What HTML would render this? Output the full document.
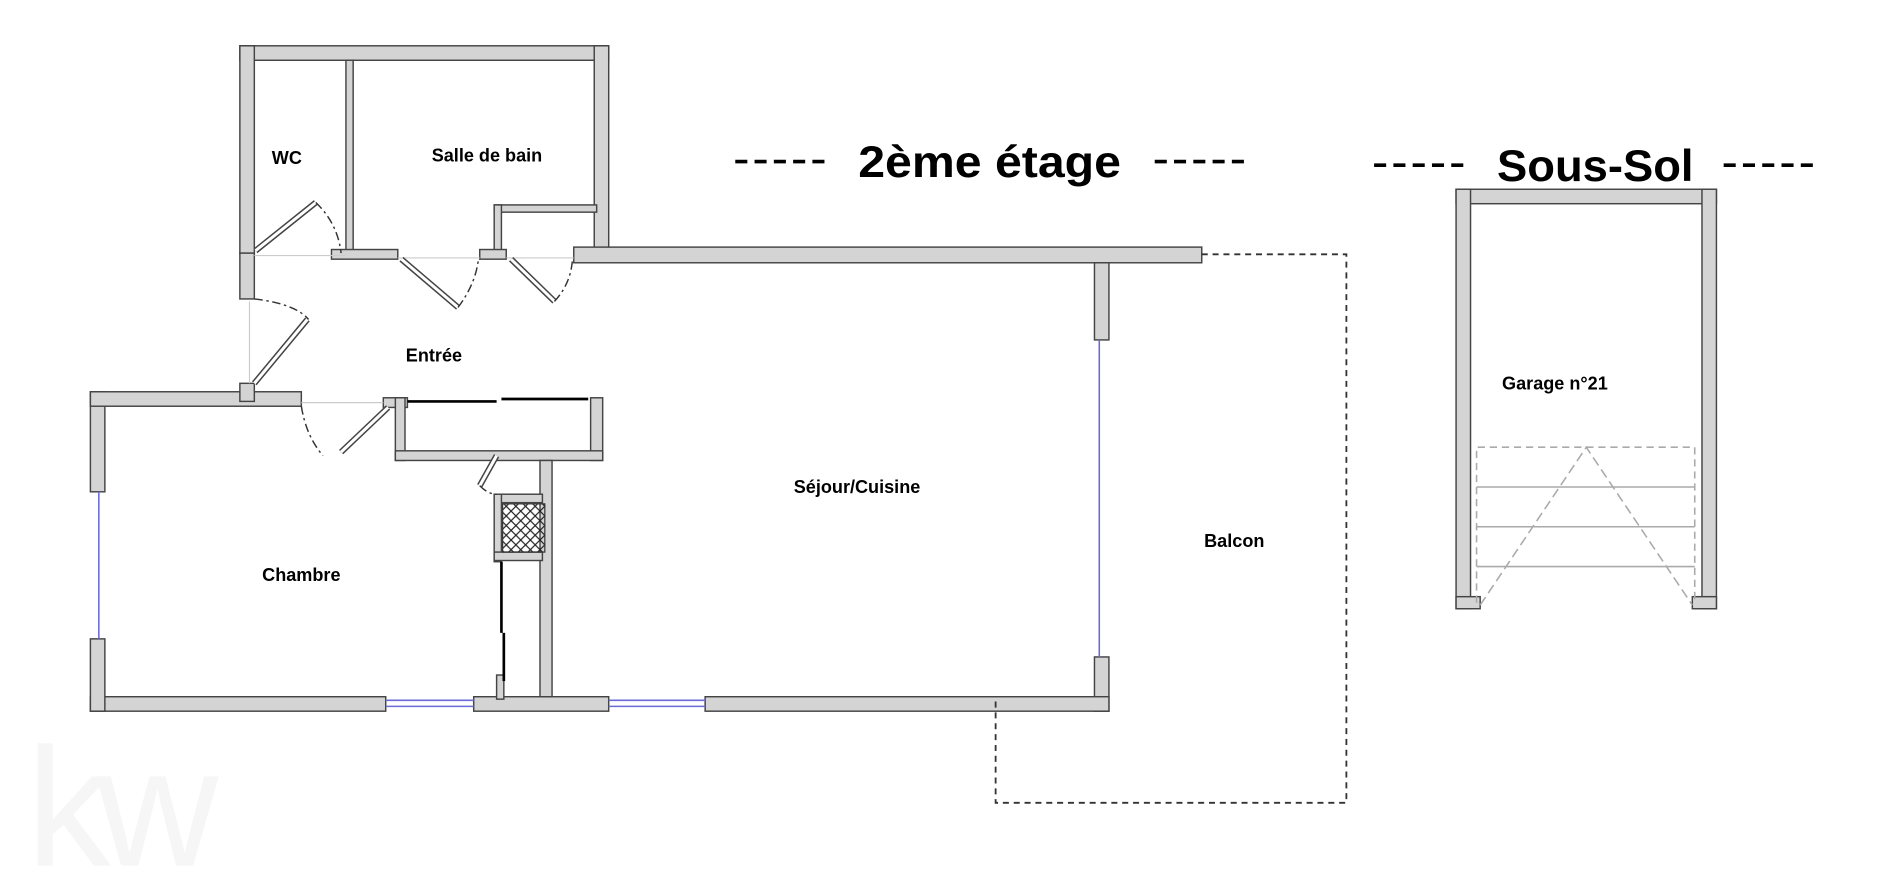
<!DOCTYPE html>
<html><head><meta charset="utf-8"><style>
html,body{margin:0;padding:0;background:#fff;width:1890px;height:892px;overflow:hidden}
svg{display:block}
text{font-family:"Liberation Sans",sans-serif;font-weight:bold;fill:#000}
</style></head><body>
<svg width="1890" height="892" viewBox="0 0 1568 740" preserveAspectRatio="none">
<text x="22" y="718" style="font-weight:normal;fill:#f6f6f6;font-size:140px;letter-spacing:-12px">kw</text>
<g fill="#d4d4d4" stroke="#444" stroke-width="1.2">
<rect x="199" y="38" width="306" height="12"/>
<rect x="199" y="38" width="12" height="172"/>
<rect x="199" y="210" width="12" height="38"/>
<rect x="493" y="38" width="12" height="174"/>
<rect x="287" y="50" width="6" height="160"/>
<rect x="275" y="207" width="55" height="8"/>
<rect x="410" y="170" width="85" height="6"/>
<rect x="410" y="170" width="6" height="40"/>
<rect x="398" y="207" width="22" height="8"/>
<rect x="476" y="205" width="521" height="13"/>
<rect x="908" y="218" width="12" height="64"/>
<rect x="908" y="545" width="12" height="45"/>
<rect x="75" y="578" width="245" height="12"/>
<rect x="393" y="578" width="112" height="12"/>
<rect x="585" y="578" width="335" height="12"/>
<rect x="75" y="325" width="12" height="83"/>
<rect x="75" y="530" width="12" height="60"/>
<rect x="75" y="325" width="175" height="12"/>
<rect x="199" y="318" width="12" height="15"/>
<rect x="318" y="330" width="20" height="8"/>
<rect x="328" y="330" width="8" height="52"/>
<rect x="490" y="330" width="10" height="52"/>
<rect x="328" y="374" width="172" height="8"/>
<rect x="448" y="382" width="10" height="196"/>
<rect x="410" y="410" width="40" height="7"/>
<rect x="410" y="410" width="6" height="56"/>
<rect x="410" y="458" width="40" height="7"/>
<rect x="412" y="560" width="6" height="20"/>
<rect x="1208" y="157" width="216" height="12"/>
<rect x="1208" y="157" width="12" height="348"/>
<rect x="1412" y="157" width="12" height="348"/>
<rect x="1208" y="495" width="20" height="10"/>
<rect x="1404" y="495" width="20" height="10"/>
</g>
<defs><pattern id="h" width="8" height="8" patternUnits="userSpaceOnUse"><path d="M0 0L8 8M8 0L0 8" stroke="#222" stroke-width="1"/></pattern></defs>
<rect x="417" y="418" width="35" height="40" fill="url(#h)" stroke="#333"/>
<g stroke="#000" stroke-width="2.2">
<line x1="338" y1="333" x2="412" y2="333"/><line x1="416" y1="331" x2="488" y2="331"/>
<line x1="416" y1="466" x2="416" y2="525"/><line x1="418" y1="525" x2="418" y2="565"/>
</g>
<g stroke="#6a6ad8" stroke-width="1.3" fill="none">
<line x1="82" y1="408" x2="82" y2="530"/>
<line x1="912" y1="282" x2="912" y2="545"/>
<line x1="320" y1="581" x2="393" y2="581"/><line x1="320" y1="586" x2="393" y2="586"/>
<line x1="505" y1="581" x2="585" y2="581"/><line x1="505" y1="586" x2="585" y2="586"/>
</g>
<g stroke="#ccc" stroke-width="1"><line x1="211" y1="212" x2="287" y2="212"/><line x1="330" y1="214" x2="398" y2="214"/><line x1="420" y1="214" x2="476" y2="214"/><line x1="207" y1="250" x2="207" y2="318"/><line x1="250" y1="334" x2="318" y2="334"/></g>
<g stroke="#444" stroke-width="5" fill="none">
<line x1="212" y1="208" x2="262" y2="168"/>
<line x1="333" y1="215" x2="380" y2="255"/>
<line x1="424" y1="215" x2="460" y2="250"/>
<line x1="211" y1="318" x2="255" y2="265"/>
<line x1="322" y1="338" x2="283" y2="375"/>
<line x1="412" y1="378" x2="398" y2="403"/>
</g>
<g stroke="#fff" stroke-width="2.5" fill="none">
<line x1="212" y1="208" x2="262" y2="168"/>
<line x1="333" y1="215" x2="380" y2="255"/>
<line x1="424" y1="215" x2="460" y2="250"/>
<line x1="211" y1="318" x2="255" y2="265"/>
<line x1="322" y1="338" x2="283" y2="375"/>
<line x1="412" y1="378" x2="398" y2="403"/>
</g>
<g stroke="#333" stroke-width="1.2" fill="none" stroke-dasharray="7 3 2 3">
<path d="M262 168 Q280 185 283 210"/>
<path d="M380 255 Q395 235 397 214"/>
<path d="M460 250 Q474 235 475 214"/>
<path d="M211 248 Q245 252 256 265"/>
<path d="M250 337 Q254 362 268 378"/>
<path d="M398 403 Q405 410 412 410"/>
</g>
<path d="M997 211 H1117 V666 H826 V582" fill="none" stroke="#333" stroke-width="1.5" stroke-dasharray="5 4"/>
<g stroke="#aaa" stroke-width="1.3" fill="none">
<path d="M1225 500 V371 H1406 V500" stroke-dasharray="6 4"/>
<line x1="1225" y1="404" x2="1406" y2="404"/><line x1="1225" y1="437" x2="1406" y2="437"/><line x1="1225" y1="470" x2="1406" y2="470"/>
<path d="M1228 502 L1316 371 L1404 502" stroke-dasharray="8 4"/>
</g>
<g stroke="#000" stroke-width="3">
<path d="M610 134h10M626 134h10M642 134h10M658 134h10M674 134h10" />
<path d="M958 134h10M974 134h10M990 134h10M1006 134h10M1022 134h10" />
<path d="M1140 137h10M1156 137h10M1172 137h10M1188 137h10M1204 137h10" />
<path d="M1430 137h10M1446 137h10M1462 137h10M1478 137h10M1494 137h10" />
</g>
<text x="712" y="147" font-size="37" textLength="218" lengthAdjust="spacingAndGlyphs">2ème étage</text>
<text x="1242" y="150" font-size="37" textLength="163" lengthAdjust="spacingAndGlyphs">Sous-Sol</text>
<g font-size="15" text-anchor="middle">
<text x="238" y="136">WC</text>
<text x="404" y="134">Salle de bain</text>
<text x="360" y="300">Entrée</text>
<text x="711" y="409">Séjour/Cuisine</text>
<text x="250" y="482">Chambre</text>
<text x="1024" y="454">Balcon</text>
<text x="1290" y="323">Garage n°21</text>
</g>
</svg>
</body></html>
